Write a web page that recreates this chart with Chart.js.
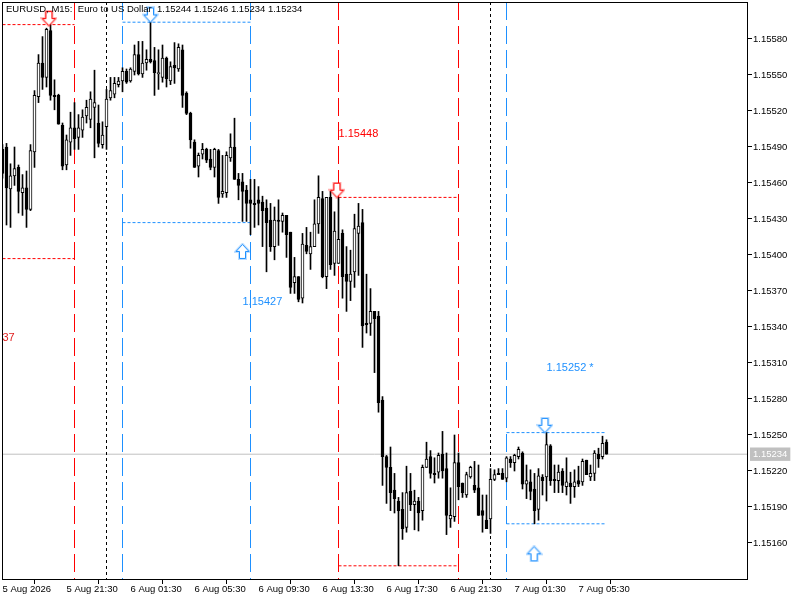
<!DOCTYPE html>
<html>
<head>
<meta charset="utf-8">
<title>EURUSD M15</title>
<script src="https://cdn.jsdelivr.net/npm/chart.js@4"></script>
<style>
  html, body { margin: 0; padding: 0; background: #fff; }
  canvas { display: block; }
</style>
</head>
<body>
<canvas id="chart" width="800" height="600"></canvas>
<script>
// ======= DATA =======
const opens = [
  1.15488,1.15490,1.15455,1.15466,1.15473,1.15452,1.15456,1.15438,1.15486,1.15532,
  1.15560,1.15548,1.15587,1.15533,1.15533,1.15508,1.15475,1.15494,1.15506,1.15498,
  1.15504,1.15516,1.15513,1.15523,1.15510,1.15492,1.15507,1.15531,1.15534,1.15542,
  1.15545,1.15553,1.15545,1.15553,1.15567,1.15551,1.15560,1.15563,1.15562,1.15551,
  1.15548,1.15564,1.15545,1.15558,1.15555,1.15571,1.15535,1.15518,1.15494,1.15474,
  1.15484,1.15488,1.15480,1.15473,1.15487,1.15451,1.15452,1.15481,1.15490,1.15463,
  1.15461,1.15454,1.15446,1.15443,1.15446,1.15444,1.15439,1.15429,1.15407,1.15429,
  1.15428,1.15433,1.15419,1.15377,1.15382,1.15364,1.15408,1.15401,1.15407,1.15426,
  1.15447,1.15382,1.15448,1.15393,1.15393,1.15418,1.15384,1.15378,1.15386,1.15418,
  1.15427,1.15343,1.15343,1.15353,1.15349,1.15279,1.15232,1.15223,1.15204,1.15195,
  1.15188,1.15173,1.15203,1.15192,1.15195,1.15187,1.15223,1.15232,1.15218,1.15219,
  1.15234,1.15222,1.15180,1.15182,1.15227,1.15210,1.15200,1.15215,1.15208,1.15206,
  1.15187,1.15179,1.15180,1.15213,1.15218,1.15218,1.15214,1.15230,1.15227,1.15232,
  1.15235,1.15209,1.15211,1.15205,1.15188,1.15215,1.15215,1.15241,1.15213,1.15212,
  1.15220,1.15207,1.15210,1.15207,1.15212,1.15211,1.15229,1.15215,1.15218,1.15234,
  1.15232,1.15244
];
const highs = [
  1.15492,1.15493,1.15476,1.15490,1.15475,1.15467,1.15470,1.15492,1.15537,1.15567,
  1.15582,1.15589,1.15592,1.15546,1.15534,1.15510,1.15500,1.15519,1.15527,1.15517,
  1.15521,1.15529,1.15536,1.15554,1.15525,1.15511,1.15538,1.15548,1.15548,1.15548,
  1.15556,1.15555,1.15556,1.15575,1.15578,1.15578,1.15571,1.15594,1.15573,1.15571,
  1.15575,1.15565,1.15561,1.15577,1.15576,1.15575,1.15536,1.15519,1.15496,1.15485,
  1.15493,1.15489,1.15488,1.15489,1.15488,1.15483,1.15486,1.15501,1.15514,1.15468,
  1.15468,1.15458,1.15463,1.15463,1.15457,1.15449,1.15446,1.15443,1.15440,1.15446,
  1.15435,1.15433,1.15419,1.15398,1.15382,1.15418,1.15423,1.15419,1.15446,1.15466,
  1.15453,1.15448,1.15453,1.15436,1.15448,1.15421,1.15407,1.15404,1.15434,1.15443,
  1.15438,1.15384,1.15372,1.15353,1.15353,1.15282,1.15233,1.15240,1.15218,1.15198,
  1.15202,1.15224,1.15218,1.15204,1.15198,1.15225,1.15244,1.15237,1.15231,1.15235,
  1.15253,1.15235,1.15206,1.15250,1.15235,1.15210,1.15219,1.15224,1.15228,1.15225,
  1.15200,1.15200,1.15222,1.15221,1.15222,1.15222,1.15232,1.15232,1.15234,1.15240,
  1.15236,1.15225,1.15221,1.15218,1.15222,1.15217,1.15252,1.15242,1.15225,1.15225,
  1.15222,1.15231,1.15219,1.15221,1.15224,1.15230,1.15229,1.15225,1.15237,1.15239,
  1.15249,1.15246
];
const lows = [
  1.15464,1.15425,1.15423,1.15458,1.15435,1.15433,1.15423,1.15437,1.15473,1.15527,
  1.15538,1.15540,1.15529,1.15521,1.15509,1.15471,1.15471,1.15483,1.15488,1.15488,
  1.15498,1.15510,1.15506,1.15481,1.15490,1.15489,1.15488,1.15529,1.15531,1.15540,
  1.15536,1.15543,1.15544,1.15550,1.15550,1.15548,1.15554,1.15560,1.15533,1.15538,
  1.15544,1.15540,1.15542,1.15543,1.15553,1.15523,1.15517,1.15489,1.15473,1.15465,
  1.15480,1.15477,1.15471,1.15465,1.15443,1.15448,1.15448,1.15478,1.15463,1.15446,
  1.15428,1.15428,1.15417,1.15423,1.15425,1.15407,1.15386,1.15403,1.15396,1.15408,
  1.15419,1.15398,1.15368,1.15368,1.15361,1.15360,1.15401,1.15388,1.15407,1.15418,
  1.15381,1.15372,1.15388,1.15383,1.15393,1.15364,1.15353,1.15362,1.15373,1.15383,
  1.15323,1.15335,1.15333,1.15302,1.15269,1.15208,1.15193,1.15187,1.15185,1.15141,
  1.15163,1.15169,1.15187,1.15171,1.15170,1.15179,1.15223,1.15214,1.15210,1.15214,
  1.15214,1.15167,1.15173,1.15178,1.15196,1.15198,1.15198,1.15214,1.15202,1.15183,
  1.15169,1.15172,1.15168,1.15212,1.15217,1.15213,1.15211,1.15223,1.15220,1.15230,
  1.15205,1.15197,1.15196,1.15176,1.15179,1.15200,1.15195,1.15208,1.15202,1.15202,
  1.15202,1.15200,1.15193,1.15198,1.15207,1.15208,1.15217,1.15212,1.15212,1.15223,
  1.15230,1.15234
];
const closes = [
  1.15468,1.15456,1.15466,1.15472,1.15453,1.15456,1.15438,1.15487,1.15533,1.15560,
  1.15548,1.15588,1.15533,1.15532,1.15509,1.15474,1.15496,1.15506,1.15497,1.15506,
  1.15515,1.15523,1.15530,1.15527,1.15493,1.15500,1.15530,1.15537,1.15543,1.15545,
  1.15553,1.15544,1.15555,1.15567,1.15551,1.15560,1.15563,1.15561,1.15552,1.15552,
  1.15564,1.15547,1.15557,1.15556,1.15573,1.15533,1.15518,1.15496,1.15473,1.15483,
  1.15488,1.15479,1.15473,1.15488,1.15448,1.15453,1.15483,1.15490,1.15463,1.15458,
  1.15453,1.15443,1.15443,1.15442,1.15443,1.15437,1.15427,1.15407,1.15429,1.15428,
  1.15433,1.15417,1.15373,1.15382,1.15363,1.15409,1.15403,1.15407,1.15426,1.15448,
  1.15382,1.15448,1.15392,1.15420,1.15413,1.15382,1.15378,1.15384,1.15422,1.15424,
  1.15341,1.15342,1.15353,1.15347,1.15277,1.15232,1.15223,1.15202,1.15197,1.15187,
  1.15172,1.15202,1.15192,1.15195,1.15185,1.15223,1.15230,1.15218,1.15217,1.15233,
  1.15220,1.15183,1.15183,1.15227,1.15207,1.15202,1.15217,1.15223,1.15204,1.15183,
  1.15183,1.15172,1.15213,1.15217,1.15217,1.15213,1.15231,1.15227,1.15233,1.15238,
  1.15209,1.15212,1.15203,1.15187,1.15216,1.15212,1.15242,1.15212,1.15212,1.15219,
  1.15208,1.15211,1.15207,1.15211,1.15209,1.15228,1.15217,1.15218,1.15235,1.15230,
  1.15243,1.15234
];

const priceTicks = [1.15160,1.15190,1.15220,1.15250,1.15280,1.15310,1.15340,1.15370,1.15400,1.15430,1.15460,1.15490,1.15520,1.15550,1.15580];
const bidPrice = 1.15234;
const timeTicks = [0,16,32,48,64,80,96,112,128,144];
const timeLabels = ['5 Aug 2026','5 Aug 21:30','6 Aug 01:30','6 Aug 05:30','6 Aug 09:30','6 Aug 13:30','6 Aug 17:30','6 Aug 21:30','7 Aug 01:30','7 Aug 05:30'];

// vertical markers, by bar index
const redVerticals = [18,84,114];
const blueVerticals = [30,62,126];
const blackVerticals = [26,122];

// horizontal levels: start bar, end bar, price
const redLevelFrom = [0,0,84,84];
const redLevelTo = [18,18,114,114];
const redLevelPrice = [1.15592,1.15397,1.15448,1.15141];
const blueLevelFrom = [30,30,126,126];
const blueLevelTo = [62,62,151,151];
const blueLevelPrice = [1.15594,1.15427,1.15252,1.15176];

// arrows
const redDownX = [11.6,83.6];
const redDownY = [1.15597,1.15454];
const blueDownX = [37,135.6];
const blueDownY = [1.15600,1.15258];
const blueUpX = [60,132.9];
const blueUpY = [1.15403,1.15151];

// free text on the chart
const noteText = ['1.15448','1.15427','1.15252 *','37'];
const noteX = [84,60,136,0];
const notePrice = [1.15501,1.15361,1.15306,1.15331];
const noteColor = ['#ff0000','#1e90ff','#1e90ff','#e02020'];
const headerText = 'EURUSD, M15:  Euro to US Dollar  1.15244 1.15246 1.15234 1.15234';

// ======= SETTINGS =======
const FONT = '"Liberation Sans", sans-serif';
const RED = '#ff0000';
const BLUE = '#1e90ff';
const xMin = -0.125, xMax = 186.125;
const yMin = 1.1513, yMax = 1.15610833;

// ======= ARROW SPRITES =======
function makeArrow(color, up) {
  const c = document.createElement('canvas');
  c.width = 17; c.height = 17;
  const g = c.getContext('2d');
  if (up) { g.translate(0, 17); g.scale(1, -1); }
  g.beginPath();
  g.moveTo(5.5, 1.5); g.lineTo(11.5, 1.5); g.lineTo(11.5, 8.5); g.lineTo(15, 8.5);
  g.lineTo(8.5, 15.5); g.lineTo(2, 8.5); g.lineTo(5.5, 8.5); g.closePath();
  g.lineJoin = 'miter';
  g.strokeStyle = color; g.globalAlpha = 0.3; g.lineWidth = 3; g.stroke();
  g.globalAlpha = 1; g.fillStyle = '#fff'; g.fill();
  g.lineWidth = 1; g.stroke();
  return c;
}

// ======= DATASET HELPERS =======
function lineSet(points, color, dash, order) {
  return { type: 'line', data: points, borderColor: color, borderWidth: 1, borderDash: dash,
    pointRadius: 0, fill: false, tension: 0, order: order };
}
function verticals(list, color, dash) {
  return list.map(i => lineSet([{ x: i, y: yMax }, { x: i, y: yMin }], color, dash, 20));
}
function levels(from, to, price, color) {
  return price.map((p, k) => lineSet([{ x: from[k], y: p }, { x: to[k], y: p }], color, [3, 2], 20));
}
function arrows(xs, ys, sprite) {
  return { type: 'line', showLine: false, data: xs.map((x, k) => ({ x: x, y: ys[k] })),
    pointStyle: sprite, pointRadius: 8, order: 1 };
}
// keep the plot area where it is: no room reserved for overhanging tick labels
function noOverhang(scale) {
  scale.paddingLeft = 0; scale.paddingRight = 0; scale.paddingTop = 0; scale.paddingBottom = 0;
}

// ======= PLUGINS =======
const annotations = {
  id: 'annotations',
  afterDatasetsDraw(chart) {
    const { ctx, chartArea: a, scales } = chart;
    ctx.save();
    ctx.strokeStyle = '#000';
    ctx.lineWidth = 1;
    ctx.strokeRect(a.left + 0.5, a.top + 0.5, a.right - a.left, a.bottom - a.top);
    ctx.font = '11px ' + FONT;
    ctx.textBaseline = 'middle';
    ctx.textAlign = 'left';
    noteText.forEach((t, k) => {
      ctx.fillStyle = noteColor[k];
      ctx.fillText(t, scales.x.getPixelForValue(noteX[k]), scales.y.getPixelForValue(notePrice[k]));
    });
    ctx.font = '9.5px ' + FONT;
    ctx.fillStyle = '#000';
    ctx.fillText(headerText, 6, 9);
    ctx.restore();
  }
};

// ======= CHART =======
const barIndex = closes.map((_, i) => i);
const wickData = barIndex.map(i => ({ x: i, y: [lows[i], highs[i]] }));
const bodyData = barIndex.map(i => ({ x: i, y: [opens[i], closes[i]] }));

new Chart(document.getElementById('chart'), {
  type: 'bar',
  data: {
    datasets: [
      { data: bodyData, backgroundColor: barIndex.map(i => closes[i] >= opens[i] ? '#fff' : '#000'),
        borderColor: '#000', borderWidth: 1, borderSkipped: false,
        barThickness: 3, maxBarThickness: 3, grouped: false, order: 2 },
      { data: wickData, backgroundColor: '#000', borderWidth: 0,
        barThickness: 1, maxBarThickness: 1, grouped: false, order: 3 },
      lineSet([{ x: xMin, y: bidPrice }, { x: xMax, y: bidPrice }], '#c0c0c0', [], 30),
      ...verticals(redVerticals, RED, [18, 6]),
      ...verticals(blueVerticals, BLUE, [18, 6]),
      ...verticals(blackVerticals, '#000', [3, 3]),
      ...levels(redLevelFrom, redLevelTo, redLevelPrice, RED),
      ...levels(blueLevelFrom, blueLevelTo, blueLevelPrice, BLUE),
      arrows(redDownX, redDownY, makeArrow(RED, false)),
      arrows(blueDownX, blueDownY, makeArrow(BLUE, false)),
      arrows(blueUpX, blueUpY, makeArrow(BLUE, true))
    ]
  },
  options: {
    responsive: false,
    animation: false,
    devicePixelRatio: 1,
    layout: { autoPadding: false, padding: { left: 2, top: 2, right: 0, bottom: 0 } },
    plugins: { legend: { display: false }, tooltip: { enabled: false } },
    scales: {
      x: {
        type: 'linear',
        min: xMin,
        max: xMax,
        offset: false,
        border: { display: false },
        grid: { drawOnChartArea: false, drawTicks: true, tickLength: 5, color: '#000' },
        afterBuildTicks: scale => { scale.ticks = timeTicks.map(v => ({ value: v })); },
        afterFit: scale => { scale.height = 21; noOverhang(scale); },
        ticks: {
          autoSkip: false, maxRotation: 0, align: 'start', padding: 0,
          color: '#000', font: { family: FONT, size: 9.5 },
          callback: v => timeLabels[timeTicks.indexOf(v)]
        }
      },
      y: {
        type: 'linear',
        position: 'right',
        min: yMin,
        max: yMax,
        border: { display: false },
        grid: { drawOnChartArea: false, drawTicks: true, tickLength: 5,
          color: ctx => ctx.tick && ctx.tick.value === bidPrice ? 'rgba(0,0,0,0)' : '#000' },
        afterBuildTicks: scale => {
          scale.ticks = [...priceTicks, bidPrice].sort((a, b) => a - b).map(v => ({ value: v }));
        },
        afterFit: scale => { scale.width = 53; noOverhang(scale); },
        ticks: {
          autoSkip: false, padding: 1,
          font: { family: FONT, size: 9.5 },
          color: ctx => ctx.tick.value === bidPrice ? '#fff' : '#000',
          showLabelBackdrop: ctx => ctx.tick.value === bidPrice,
          backdropColor: '#c0c0c0',
          backdropPadding: { left: 3, right: 3, top: 1, bottom: 1 },
          callback: v => v.toFixed(5)
        }
      }
    }
  },
  plugins: [annotations]
});
</script>
</body>
</html>
